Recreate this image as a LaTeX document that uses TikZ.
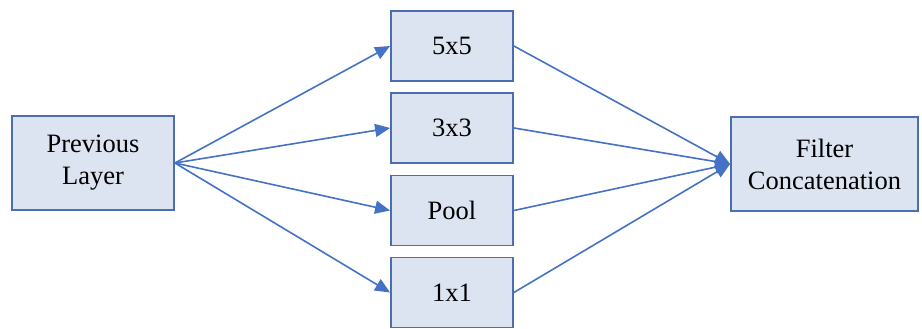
\documentclass[tikz,border=0pt]{standalone}
\usepackage{fontspec}
\setmainfont{Liberation Serif}
\usetikzlibrary{arrows.meta}
\definecolor{boxfill}{HTML}{DCE3F1}
\definecolor{boxline}{HTML}{4A6EAE}
\definecolor{arrowc}{HTML}{4472C4}
\begin{document}
\begin{tikzpicture}[x=1pt,y=-1pt,
  blk/.style={draw=boxline,fill=boxfill,line width=1.8pt,inner sep=0pt,align=center,
    font=\fontsize{26.5}{32}\selectfont},
  conn/.style={draw=arrowc,line width=1.6pt,-{Triangle[length=15pt,width=13pt]}}]
\useasboundingbox (0,0) rectangle (922,329);
\node[blk,minimum width=162pt,minimum height=94pt] (prev) at (93,163) {Previous\\Layer};
\node[blk,minimum width=122pt,minimum height=70pt] (a) at (452,46) {5x5};
\node[blk,minimum width=122pt,minimum height=70pt] (b) at (452,128) {3x3};
\node[blk,minimum width=122pt,minimum height=70pt] (c) at (452,210.5) {Pool};
\node[blk,minimum width=122pt,minimum height=70pt] (d) at (452,292.5) {1x1};
\node[blk,minimum width=187pt,minimum height=94pt] (filt) at (824.5,164) {Filter\\Concatenation};
\foreach \n in {a,b,c,d}{
  \draw[conn] (prev.east) -- (\n.west);
  \draw[conn] (\n.east) -- (filt.west);
}
\end{tikzpicture}
\end{document}
